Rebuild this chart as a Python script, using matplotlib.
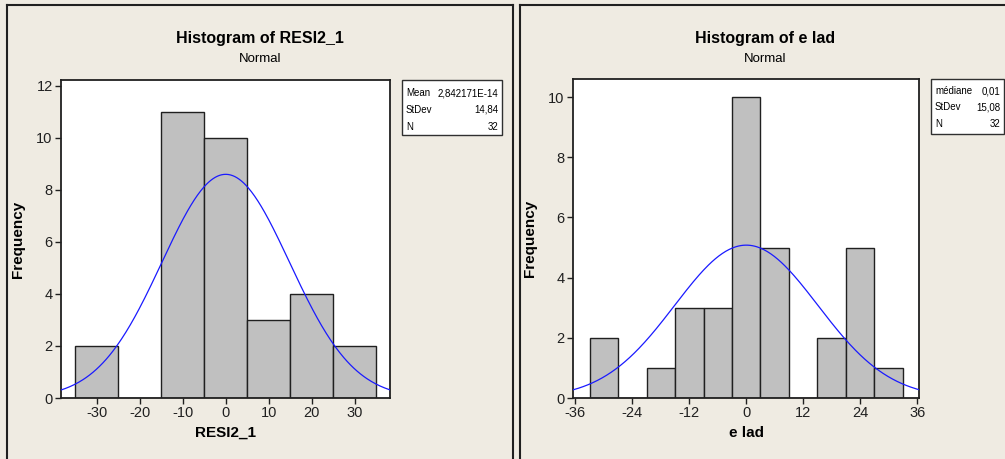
import numpy as np
import matplotlib
matplotlib.use("Agg")
import matplotlib.pyplot as plt
from matplotlib.patches import Rectangle
from matplotlib.lines import Line2D

plt.rcParams['font.family'] = ['Liberation Sans', 'DejaVu Sans']

# left histogram : residuals
edges1 = [-35, -25, -15, -5, 5, 15, 25, 35]
counts1 = [2, 0, 11, 10, 3, 4, 2]
mean1, sd1, n1 = 2.842171e-14, 14.84, 32
xticks1 = [-30, -20, -10, 0, 10, 20, 30]
yticks1 = [0, 2, 4, 6, 8, 10, 12]
stats1 = [("Mean", "2,842171E-14"), ("StDev", "14,84"), ("N", "32")]

# right histogram : e lad
edges2 = [-33, -27, -21, -15, -9, -3, 3, 9, 15, 21, 27, 33]
counts2 = [2, 0, 1, 3, 3, 10, 5, 0, 2, 5, 1]
mean2, sd2, n2 = 0.01, 15.08, 32
xticks2 = [-36, -24, -12, 0, 12, 24, 36]
yticks2 = [0, 2, 4, 6, 8, 10]
stats2 = [("médiane", "0,01"), ("StDev", "15,08"), ("N", "32")]

W, H = 1005, 459
BG = '#efebe2'
fig = plt.figure(figsize=(W / 100, H / 100), dpi=100, facecolor=BG)


def px(x0, y0, x1, y1):
    # pixel box (top-left origin) -> figure fraction rect
    return [x0 / W, (H - y1) / H, (x1 - x0) / W, (y1 - y0) / H]


def fx(x):
    return x / W


def fy(y):
    return (H - y) / H


def panel(ax_box, edges, counts, mean, sd, n, xticks, yticks, xlim, ylim,
          title, xlabel, cx, stats, box, rows, lab_x, val_x):
    ax = fig.add_axes(px(*ax_box))
    ax.set_facecolor('white')
    widths = np.diff(edges)
    ax.bar(edges[:-1], counts, width=widths, align='edge',
           color='#c0c0c0', edgecolor='#202020', linewidth=1.0, zorder=2)
    xs = np.linspace(xlim[0], xlim[1], 300)
    bw = widths[0]
    ys = n * bw / (sd * np.sqrt(2 * np.pi)) * np.exp(-0.5 * ((xs - mean) / sd) ** 2)
    ax.plot(xs, ys, color='#1a1aff', linewidth=0.9, zorder=3)
    ax.set_xlim(*xlim)
    ax.set_ylim(*ylim)
    ax.set_xticks(xticks)
    ax.set_yticks(yticks)
    ax.set_xticklabels([str(t) for t in xticks])
    ax.tick_params(direction='out', length=4, width=1, labelsize=10.5,
                   colors='#202020', pad=2)
    for s in ax.spines.values():
        s.set_linewidth(1.3)
        s.set_color('#202020')
    ax.set_xlabel(xlabel, fontsize=11, fontweight='bold', labelpad=4)
    ax.set_ylabel('Frequency', fontsize=11, fontweight='bold', labelpad=8)
    fig.text(fx(cx), fy(38), title, ha='center', va='center',
             fontsize=11.5, fontweight='bold')
    fig.text(fx(cx), fy(59), 'Normal', ha='center', va='center', fontsize=9.5)
    bx0, by0, bx1, by1 = box
    fig.patches.append(Rectangle((fx(bx0), fy(by1)), fx(bx1 - bx0), (by1 - by0) / H,
                                 transform=fig.transFigure, facecolor='white',
                                 edgecolor='#303030', linewidth=1.0))
    for (lab, val), ry in zip(stats, rows):
        fig.text(fx(lab_x), fy(ry), lab, ha='left', va='center', fontsize=7)
        fig.text(fx(val_x), fy(ry), val, ha='right', va='center', fontsize=7)
    return ax


panel((61, 80, 390, 398), edges1, counts1, mean1, sd1, n1, xticks1, yticks1,
      (-38.3, 38.2), (0, 12.23), 'Histogram of RESI2_1', 'RESI2_1', 260,
      stats1, (402, 80, 502, 135), (93, 110, 127), 406, 498)

panel((573, 79, 919, 398), edges2, counts2, mean2, sd2, n2, xticks2, yticks2,
      (-36.5, 36.4), (0, 10.6), 'Histogram of e lad', 'e lad', 765,
      stats2, (931, 79, 1004, 134), (91, 107, 124), 935, 1000)

# panel frames
for seg in [((7, 5), (513, 5)), ((7, 5), (7, 459)), ((513, 5), (513, 459)),
            ((520, 5), (1005, 5)), ((520, 5), (520, 459))]:
    (xa, ya), (xb, yb) = seg
    fig.add_artist(Line2D([fx(xa), fx(xb)], [fy(ya), fy(yb)],
                          transform=fig.transFigure, color='#202020', linewidth=1.5))

fig.savefig('out.png', dpi=100, facecolor=BG)
